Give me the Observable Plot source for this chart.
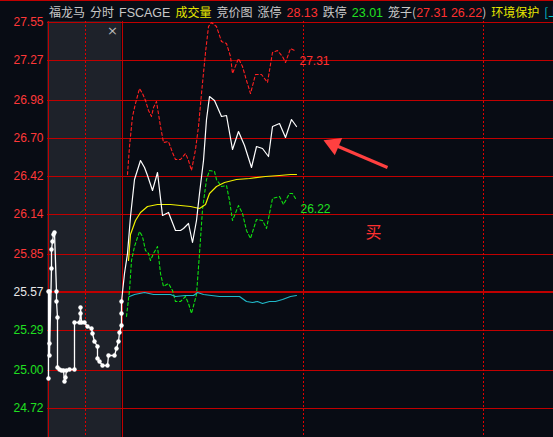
<!DOCTYPE html>
<html><head><meta charset="utf-8">
<script src="https://cdn.jsdelivr.net/npm/d3@7"></script>
<script src="https://cdn.jsdelivr.net/npm/@observablehq/plot@0.6"></script>
<style>
body{margin:0;background:#080c14;}
#wrap{position:relative;width:553px;height:437px;overflow:hidden;background:#080c14;}
#hdr{position:absolute;left:0;top:0;width:553px;height:21px;border-top:1px solid #c00000;box-sizing:border-box;
  font:12px "Noto Sans CJK SC",sans-serif;display:flex;align-items:center;padding-left:49px;gap:5px;white-space:nowrap;}
#hdr .num{font-family:"Liberation Sans",Arial,sans-serif;font-size:12.5px;}
#close{position:absolute;left:107px;top:23px;color:#b8b8b8;font:13px "DejaVu Sans",sans-serif;}
</style></head><body>
<div id="wrap"><div id="chart"></div><div id="hdr"></div><div id="close">×</div></div>
<script>
// ---- header text ----
const headerGroups = [
  [["福龙马","gray"]],
  [["分时","gray"]],
  [["FSCAGE","gray"]],
  [["成交量","yellow"]],
  [["竞价图","gray"]],
  [["涨停","gray"]],
  [["28.13","red"]],
  [["跌停","gray"]],
  [["23.01","green"]],
  [["笼子(","gray"],["27.31","red"],[" 26.22","red"],[")","gray"]],
  [["环境保护","yellow"]],
  [["[上","cyan"]]
];
// ---- scale ticks ----
const gridLabels = ["27.55","27.27","26.98","26.70","26.42","26.14","25.85","25.57","25.29","25.00","24.72"];
const preClose = 25.57;
const cageHigh = 27.31, cageLow = 26.22;
// ---- pre-market auction (minutes after 9:15, price) ----
const preMin = [0.1,0.1,0.3,0.3,0.3,0.5,0.58,0.72,0.85,0.95,1.18,1.22,1.31,1.39,1.62,1.93,2.2,2.3,2.5,2.6,2.97,3.65,3.65,4.3,4.4,4.5,4.55,5.0,5.36,5.9,6.12,6.35,6.72,6.8,7.03,7.47,8.15,8.24,9.05,9.28,9.59,9.77,9.96,10,10];
const prePrice = [24.93,25.57,25.57,25.19,25.10,25.74,25.88,25.94,25.99,26.00,25.57,25.50,25.38,25.01,25.00,24.99,24.99,24.91,24.94,24.99,25.00,25.00,25.34,25.34,25.41,25.45,25.34,25.34,25.31,25.30,25.26,25.20,25.17,25.08,25.06,25.03,25.03,25.10,25.10,25.15,25.20,25.27,25.32,25.41,25.50];
// ---- intraday (minutes after 9:30, price) ----
const priceMin = [0,0.8,1.9,3,4.1,6.3,7.4,8.5,10.1,11.8,13.4,15.6,17.8,19.5,20.5,22.2,23.6,25,26,27.1,28.3,29.3,31,33.2,34.8,37,39,40.9,43.1,44.7,46.9,48.9,50.2,52.4,54.6,56.6,58.3];
const price = [25.50,25.70,25.85,26.12,26.39,26.53,26.48,26.42,26.31,26.44,26.13,26.15,26.02,26.02,26.03,26.07,25.93,26.09,26.29,26.53,26.83,27.00,26.97,26.85,26.86,26.61,26.74,26.64,26.48,26.63,26.62,26.56,26.78,26.80,26.70,26.83,26.78];
const avgMin = [2.1,3,4.6,6.3,8.5,11.8,16.2,19.5,22.7,26,27.7,29.3,31.6,34.3,38.1,42.5,48,52.4,56.3,58.3];
const avgPrice = [25.80,25.99,26.09,26.15,26.19,26.21,26.21,26.20,26.19,26.18,26.21,26.29,26.34,26.37,26.39,26.40,26.41,26.42,26.43,26.43];
const upMin = [1.9,2.4,3.5,4.6,5.7,6.8,7.9,9,9.8,10.6,11.5,12.9,13.7,15.6,16.7,17.8,19.5,21.1,22.2,23.1,24.4,25.5,26.6,27.7,28.8,29.9,31.6,33.2,34.8,36.2,37,38.7,40.3,41.4,42.8,44.5,46.4,48.6,50.2,51.9,53.5,54.6,56.3,57.4];
const upBand = [26.43,26.63,26.85,26.95,27.06,27.02,26.97,26.90,26.85,26.92,26.96,26.78,26.66,26.67,26.59,26.54,26.54,26.58,26.53,26.46,26.61,26.78,27.02,27.32,27.51,27.54,27.51,27.40,27.39,27.29,27.17,27.28,27.22,27.12,27.02,27.16,27.16,27.10,27.32,27.34,27.29,27.25,27.35,27.34];
const lowMin = [1.6,2.4,3.2,4.1,5.7,6.8,7.9,9,9.6,10.6,11.8,12.9,13.9,15.6,16.7,17.8,19.5,21.1,22.2,23.3,24.7,25.8,26.9,28.3,29.3,31,31.6,33.2,34.8,35.9,37,38.7,40.3,41.6,42.8,44.7,46.7,48.2,50.2,52.4,53.7,55.7,56.8,57.9];
const lowBand = [25.39,25.58,25.80,25.90,26.01,25.97,25.87,25.85,25.80,25.85,25.90,25.70,25.61,25.63,25.58,25.50,25.50,25.53,25.48,25.41,25.55,25.85,26.17,26.39,26.46,26.45,26.39,26.34,26.35,26.24,26.09,26.20,26.14,26.02,25.96,26.10,26.09,26.03,26.25,26.27,26.21,26.29,26.29,26.25];
const cyanMin = [2.4,4.1,7.4,10.6,16.2,17.8,21.1,23.7,25.2,27.1,32.6,39.2,41.4,43.6,45.2,46.9,49.1,51.3,53.5,56.3,58.3];
const cyanVal = [25.53,25.55,25.56,25.55,25.55,25.53,25.54,25.54,25.56,25.55,25.53,25.53,25.50,25.49,25.50,25.48,25.50,25.50,25.51,25.53,25.54];
// ---- annotations (minutes after 9:30, price) ----
const arrowTail = [88.5, 26.48];
const arrowHead = [70.6, 26.65];
const buyMark = [83.8, 26.00, "买"];

const COLORS = {gray:"#c8c8c8", yellow:"#e6e600", red:"#ff3030", green:"#20e020", cyan:"#00c8d0"};
const hdr = document.getElementById("hdr");
for (const g of headerGroups) {
  const s = document.createElement("span");
  for (const [t, c] of g) {
    const p = document.createElement("span");
    p.textContent = t; p.style.color = COLORS[c];
    if (/^[\s\d.]+$/.test(t) || t === "FSCAGE") p.className = "num";
    s.appendChild(p);
  }
  hdr.appendChild(s);
}

const X0 = -24.83, X1 = 143.83, PRE_END = -0.17;
const Y0 = 24.499, Y1 = 27.55;
const preToX = p => X0 + p / 10 * (PRE_END - X0);
const gridValues = gridLabels.map(Number);
const zip = (xs, ys) => xs.map((x, i) => ({x, y: ys[i]}));
const pre = preMin.map((p, i) => ({x: preToX(p), y: prePrice[i]}));
const priceD = zip(priceMin, price), avgD = zip(avgMin, avgPrice);
const upD = zip(upMin, upBand), lowD = zip(lowMin, lowBand), cyanD = zip(cyanMin, cyanVal);
const GRID = "#c00000";

const chart = Plot.plot({
  width: 553, height: 437,
  marginLeft: 47, marginRight: 0, marginTop: 21, marginBottom: 0,
  x: {domain: [X0, X1], axis: null, round: true},
  y: {domain: [Y0, Y1], axis: null, round: true},
  style: {background: "#080c14", fontFamily: "'Liberation Sans', Arial, sans-serif", overflow: "visible"},
  marks: [
    Plot.rect([0], {x1: X0, x2: PRE_END, y1: Y0, y2: Y1, fill: "#1e222a"}),
    Plot.ruleY(gridValues.filter(v => v !== preClose), {stroke: GRID, strokeWidth: 1, dy: 0.5, shapeRendering: "crispEdges"}),
    Plot.ruleY([preClose], {stroke: "#c00000", strokeWidth: 2, shapeRendering: "crispEdges"}),
    Plot.ruleX([X0, PRE_END], {stroke: GRID, strokeWidth: 1, dx: 0.5, shapeRendering: "crispEdges"}),
    Plot.ruleX([preToX(5), 60, 120], {stroke: "#e00000", strokeDasharray: "2,2", strokeWidth: 1, dx: 0.5, shapeRendering: "crispEdges"}),
    Plot.line(pre, {x: "x", y: "y", stroke: "#fff", strokeWidth: 1.3}),
    Plot.dot(pre, {x: "x", y: "y", r: 2.2, fill: "#fff", stroke: "none"}),
    Plot.line(upD, {x: "x", y: "y", stroke: "#ff2020", strokeDasharray: "3,2.5", strokeWidth: 1.1}),
    Plot.line(lowD, {x: "x", y: "y", stroke: "#10e010", strokeDasharray: "3,2.5", strokeWidth: 1.1}),
    Plot.line(cyanD, {x: "x", y: "y", stroke: "#20b8c8", strokeWidth: 1.2}),
    Plot.line(avgD, {x: "x", y: "y", stroke: "#f0f000", strokeWidth: 1.2}),
    Plot.line(priceD, {x: "x", y: "y", stroke: "#ffffff", strokeWidth: 1.2}),
    Plot.text([{x: upMin[upMin.length - 1], y: cageHigh}], {x: "x", y: "y", text: () => cageHigh.toFixed(2), fill: "#ff3030", textAnchor: "start", dx: 5, dy: 7, fontSize: 12}),
    Plot.text([{x: lowMin[lowMin.length - 1], y: cageLow}], {x: "x", y: "y", text: () => cageLow.toFixed(2), fill: "#20e020", textAnchor: "start", dx: 5, dy: 7, fontSize: 12}),
    Plot.text(gridValues.filter(v => v > preClose), {y: d => d, frameAnchor: "left", dx: -4, dy: 1, textAnchor: "end", text: d => gridLabels[gridValues.indexOf(d)], fill: "#ff3838", fontSize: 12}),
    Plot.text([preClose], {y: d => d, frameAnchor: "left", dx: -4, dy: 1, textAnchor: "end", text: d => gridLabels[gridValues.indexOf(d)], fill: "#e8e8e8", fontSize: 12}),
    Plot.text(gridValues.filter(v => v < preClose), {y: d => d, frameAnchor: "left", dx: -4, dy: 1, textAnchor: "end", text: d => gridLabels[gridValues.indexOf(d)], fill: "#20e020", fontSize: 12}),
    Plot.link([{x1: arrowTail[0], y1: arrowTail[1], x2: arrowHead[0], y2: arrowHead[1]}], {x1: "x1", y1: "y1", x2: "x2", y2: "y2", stroke: "#ff4040", strokeWidth: 3}),
    Plot.dot([{x: arrowHead[0], y: arrowHead[1]}], {x: "x", y: "y", symbol: "triangle", r: 7, fill: "#ff4040", stroke: "none", rotate: -66.8}),
    Plot.text([buyMark], {x: d => d[0], y: d => d[1], text: d => d[2], fill: "#ff3030", fontSize: 16, fontFamily: "'Noto Sans CJK SC', sans-serif"})
  ]
});
document.getElementById("chart").appendChild(chart);
</script>
</body></html>
